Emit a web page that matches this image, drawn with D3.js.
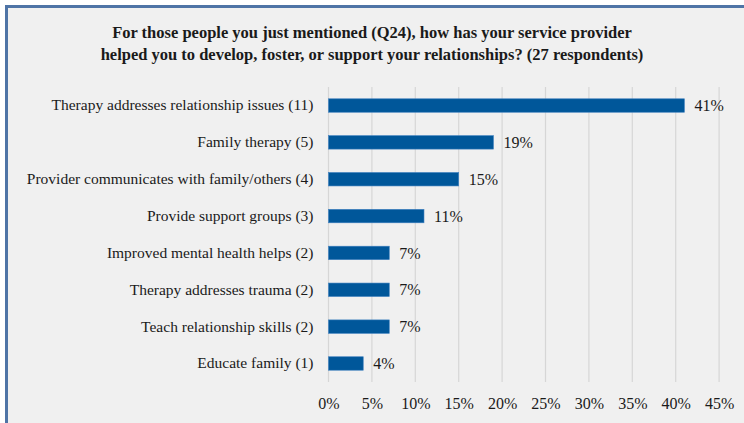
<!DOCTYPE html>
<html>
<head>
<meta charset="utf-8">
<script src="https://cdn.jsdelivr.net/npm/d3@7/dist/d3.min.js"></script>
<style>
  html, body { margin: 0; padding: 0; background: #ffffff; }
  svg { display: block; }
  text { font-family: "Liberation Serif", "Times New Roman", serif; fill: #1a1a1a; }
</style>
</head>
<body>
<svg id="chart" width="744" height="423"></svg>
<script>
// Survey responses (Q24 follow-up), share of 27 respondents
const categories = [
  "Therapy addresses relationship issues (11)",
  "Family therapy (5)",
  "Provider communicates with family/others (4)",
  "Provide support groups (3)",
  "Improved mental health helps (2)",
  "Therapy addresses trauma (2)",
  "Teach relationship skills (2)",
  "Educate family (1)"
];
const percentValues = [41, 19, 15, 11, 7, 7, 7, 4];
const tickValues = [0, 5, 10, 15, 20, 25, 30, 35, 40, 45];
const titleLines = [
  "For those people you just mentioned (Q24), how has your service provider",
  "helped you to develop, foster, or support your relationships? (27 respondents)"
];

const svg = d3.select("#chart");
const W = 744, H = 423;

// panel background and frame
svg.append("rect").attr("x", 5).attr("y", 5).attr("width", W - 5).attr("height", H - 5)
  .attr("fill", "#f0f0f0");
svg.append("path")
  .attr("d", `M6.5,${H} V6.5 H${W}`)
  .attr("fill", "none").attr("stroke", "#4f74a6").attr("stroke-width", 3);

// title
const title = svg.append("text").attr("text-anchor", "middle")
  .style("font-weight", "bold").style("font-size", "16.5px");
titleLines.forEach((t, i) => {
  title.append("tspan").attr("x", 372).attr("y", 38 + i * 22).text(t);
});

const margin = { left: 328.5, right: 25, top: 87, bottom: 41 };
const x = d3.scaleLinear().domain([0, 45]).range([margin.left, margin.left + 390.6]);
const y = d3.scaleBand().domain(categories).range([margin.top, H - margin.bottom])
  .paddingInner(0.635).paddingOuter(0.32);

// vertical gridlines
svg.append("g").selectAll("line").data(tickValues).join("line")
  .attr("x1", d => x(d)).attr("x2", d => x(d))
  .attr("y1", margin.top).attr("y2", H - margin.bottom)
  .attr("stroke", "#d6d6d6").attr("stroke-width", 1.2);

// x axis tick labels
const xAxis = d3.axisBottom(x).tickValues(tickValues).tickFormat(d => d + "%").tickSize(0).tickPadding(0);
const gx = svg.append("g").attr("transform", `translate(0,${H - margin.bottom + 16})`).call(xAxis);
gx.select(".domain").remove();
gx.selectAll("text").style("font-size", "16px").style("fill", "#1a1a1a");

// category labels
const yAxis = d3.axisLeft(y).tickSize(0).tickPadding(15);
const gy = svg.append("g").attr("transform", `translate(${margin.left},0)`).call(yAxis);
gy.select(".domain").remove();
gy.selectAll("text").style("font-size", "15.5px").style("fill", "#1a1a1a");

// bars
svg.append("g").selectAll("rect").data(categories).join("rect")
  .attr("x", x(0))
  .attr("y", d => y(d))
  .attr("width", (d, i) => x(percentValues[i]) - x(0))
  .attr("height", y.bandwidth())
  .attr("fill", "#00579a")
  .attr("stroke", "#3d7fbf").attr("stroke-width", 0.6);

// value labels
svg.append("g").selectAll("text").data(categories).join("text")
  .attr("x", (d, i) => x(percentValues[i]) + 10)
  .attr("y", d => y(d) + y.bandwidth() / 2)
  .attr("dy", "0.35em")
  .style("font-size", "16px")
  .text((d, i) => percentValues[i] + "%");
</script>
</body>
</html>
